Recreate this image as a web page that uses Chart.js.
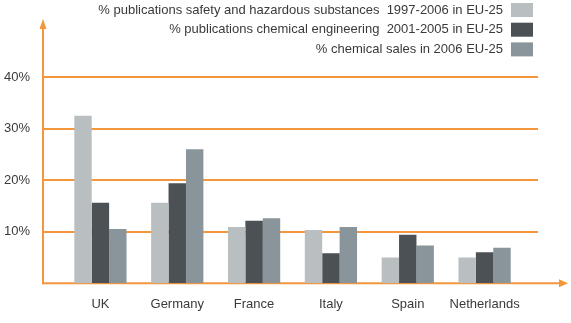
<!DOCTYPE html>
<html>
<head>
<meta charset="utf-8">
<script src="https://cdn.jsdelivr.net/npm/chart.js@4/dist/chart.umd.min.js"></script>
<style>
    html, body { margin: 0; padding: 0; background: #ffffff; }
    #wrap { width: 571px; height: 323px; position: relative; }
</style>
</head>
<body>
<div id="wrap"><canvas id="chart"></canvas></div>
<script>
// data
var countries = ['UK', 'Germany', 'France', 'Italy', 'Spain', 'Netherlands'];
var seriesLabels = [
    '% publications safety and hazardous substances  1997-2006 in EU-25',
    '% publications chemical engineering  2001-2005 in EU-25',
    '% chemical sales in 2006 EU-25'
];
var safetyPubs = [32.5, 15.6, 10.9, 10.3, 5.0, 5.0];
var chemEngPubs = [15.6, 19.4, 12.1, 5.8, 9.4, 6.0];
var chemSales = [10.5, 26.0, 12.6, 10.9, 7.3, 6.9];
var yTicks = [10, 20, 30, 40];

var barColors = ['#b9bfc1', '#4b5154', '#89959a'];
var orange = '#f4963c';
var textColor = '#3a3a3a';

Chart.defaults.font.family = "'Liberation Sans', Arial, sans-serif";
Chart.defaults.font.size = 13;
Chart.defaults.color = textColor;

// orange axes with arrows + gridlines that run past the bars
var axesPlugin = {
    id: 'orangeAxes',
    beforeDatasetsDraw: function (chart) {
        let ctx = chart.ctx;
        let area = chart.chartArea;
        let y = chart.scales.y;
        let left = area.left - 19;
        let zero = y.getPixelForValue(0);

        ctx.save();
        ctx.strokeStyle = orange;
        ctx.fillStyle = orange;
        ctx.lineWidth = 2;

        for (let i = 0; i < yTicks.length; i++) {
            let py = Math.round(y.getPixelForValue(yTicks[i]));
            ctx.beginPath();
            ctx.moveTo(left, py);
            ctx.lineTo(area.right + 15, py);
            ctx.stroke();
        }

        // y axis
        ctx.beginPath();
        ctx.moveTo(left, zero + 1);
        ctx.lineTo(left, 26);
        ctx.stroke();
        ctx.beginPath();
        ctx.moveTo(left, 19);
        ctx.lineTo(left - 3.5, 29);
        ctx.lineTo(left + 3.5, 29);
        ctx.closePath();
        ctx.fill();

        // x axis
        ctx.beginPath();
        ctx.moveTo(left - 1, zero);
        ctx.lineTo(chart.width - 9, zero);
        ctx.stroke();
        ctx.beginPath();
        ctx.moveTo(chart.width - 3, zero);
        ctx.lineTo(chart.width - 12, zero - 4);
        ctx.lineTo(chart.width - 12, zero + 4);
        ctx.closePath();
        ctx.fill();
        ctx.restore();
    }
};

// legend in the top right corner, text to the left of each box
var legendPlugin = {
    id: 'rightLegend',
    afterDraw: function (chart) {
        let ctx = chart.ctx;
        let sets = chart.data.datasets;
        ctx.save();
        ctx.font = "13px 'Liberation Sans', Arial, sans-serif";
        ctx.textAlign = 'right';
        ctx.textBaseline = 'middle';
        for (let i = 0; i < sets.length; i++) {
            let cy = 10 + i * 19.7;
            ctx.fillStyle = textColor;
            ctx.fillText(sets[i].label, 503, cy);
            ctx.fillStyle = sets[i].backgroundColor;
            ctx.fillRect(511, cy - 7, 22, 14);
        }
        ctx.restore();
    }
};

let seriesData = [safetyPubs, chemEngPubs, chemSales];
let datasets = [];
for (let s = 0; s < seriesData.length; s++) {
    datasets.push({
        label: seriesLabels[s],
        data: seriesData[s],
        backgroundColor: barColors[s],
        borderWidth: 0,
        barPercentage: 1,
        categoryPercentage: 0.68
    });
}

const config = {
    type: 'bar',
    data: {
        labels: countries,
        datasets: datasets
    },
    options: {
        responsive: false,
        animation: false,
        layout: {
            padding: { top: 77, right: 48, left: 0, bottom: 0 }
        },
        scales: {
            x: {
                grid: { display: false, drawTicks: false },
                border: { display: false },
                ticks: { padding: 13, color: textColor, font: { size: 13 } },
                afterFit: function (scale) { scale.height = 36; }
            },
            y: {
                min: 0,
                max: 40,
                grid: { display: false, drawTicks: false },
                border: { display: false },
                ticks: {
                    stepSize: 10,
                    padding: 32,
                    color: textColor,
                    font: { size: 13 },
                    callback: function (v) { return v === 0 ? '' : v + '%'; }
                },
                afterFit: function (scale) { scale.width = 62; }
            }
        },
        plugins: {
            legend: { display: false },
            tooltip: { enabled: false }
        }
    },
    plugins: [axesPlugin, legendPlugin]
};

let canvas = document.getElementById('chart');
canvas.width = 571;
canvas.height = 323;
new Chart(canvas, config);
</script>
</body>
</html>
